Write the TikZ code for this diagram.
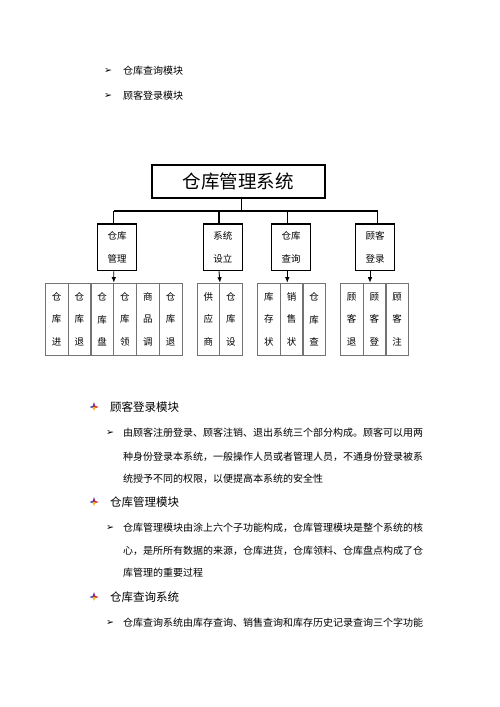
\documentclass[tikz,border=0pt]{standalone}
\usepackage{fontspec}
\newfontfamily\cjk{Noto Sans CJK SC}
\newfontfamily\symf{DejaVu Sans}
\usetikzlibrary{arrows.meta}
\tikzset{
  titlebox/.style={draw=black,line width=1.6pt,minimum width=173pt,minimum height=33pt,inner sep=0pt,font=\cjk\fontsize{18.5}{20}\selectfont},
  midbox/.style={draw=black,line width=1.2pt,minimum width=39pt,minimum height=46.7pt,inner sep=0pt,align=center,font=\cjk\fontsize{9.5}{22.7}\selectfont},
  leafbox/.style={draw=black!55,line width=0.6pt,minimum width=22.7pt,minimum height=72.6pt,inner sep=0pt,align=center,anchor=north west,font=\cjk\fontsize{9.5}{22.5}\selectfont},
  wire/.style={line width=1.1pt,draw=black},
  arr/.style={line width=0.9pt,-{Latex[length=5.5pt,width=4.5pt]}},
  bodytext/.style={anchor=west,inner sep=0pt,font=\cjk\fontsize{10}{12}\selectfont},
  headtext/.style={anchor=west,inner sep=0pt,font=\cjk\fontsize{11.5}{13}\selectfont},
  bul/.style={anchor=center,inner sep=0pt,font=\symf\fontsize{9.5}{10}\selectfont},
}
\newcommand{\headicon}[2]{%
  \fill[fill={rgb,255:red,120;green,40;blue,150}] (#1-1.6,#2) -- (#1,#2-5) -- (#1+1.6,#2) -- cycle;
  \fill[fill={rgb,255:red,60;green,70;blue,200}] (#1,#2-1.6) -- (#1-4.5,#2) -- (#1,#2+1.6) -- cycle;
  \fill[fill={rgb,255:red,220;green,40;blue,40}] (#1,#2-1.6) -- (#1+4.5,#2) -- (#1,#2+1.6) -- cycle;
  \fill[fill={rgb,255:red,245;green,185;blue,30}] (#1-1.6,#2) -- (#1,#2+4) -- (#1+1.6,#2) -- cycle;
}
\begin{document}
\begin{tikzpicture}[x=1pt,y=-1pt]
\useasboundingbox[fill=white] (0,0) rectangle (500,707);

% top bullets
\node[bul] (tb1) at (108,71) {➢};
\node[bodytext] (tt1) at (123,71) {仓库查询模块};
\node[bul] (tb2) at (108,95.5) {➢};
\node[bodytext] (tt2) at (123,95.5) {顾客登录模块};

% title
\node[titlebox] (title) at (238.3,181.3) {仓库管理系统};

% level 2
\node[midbox] (m1) at (117.2,247.3) {仓库\\管理};
\node[midbox] (m2) at (222.8,247.3) {系统\\设立};
\node[midbox] (m3) at (291,247.3) {仓库\\查询};
\node[midbox] (m4) at (375,247.3) {顾客\\登录};

% bus
\coordinate (bt) at (241.5,211);
\coordinate (bl) at (113.5,211);
\coordinate (br) at (377.7,211);
\draw[wire] (title.south -| bt) -- (bt);
\draw[wire] (bl) -- (br);
\coordinate (d1) at (113.5,211);
\coordinate (d2) at (219,211);
\coordinate (d3) at (287.3,211);
\coordinate (d4) at (377.7,211);
\draw[wire] (d1) -- (m1.north -| d1);
\draw[wire] (d2) -- (m2.north -| d2);
\draw[wire] (d3) -- (m3.north -| d3);
\draw[wire] (d4) -- (m4.north -| d4);

% leaves group 1
\foreach \t [count=\i from 0] in {{仓\\库\\进},{仓\\库\\退},{仓\\库\\盘},{仓\\库\\领},{商\\品\\调},{仓\\库\\退}}
  \node[leafbox] (a\i) at (45+22.78*\i,282.7) {\t};
% group 2
\foreach \t [count=\i from 0] in {{供\\应\\商},{仓\\库\\设}}
  \node[leafbox] (b\i) at (196.7+22.5*\i,282.7) {\t};
% group 3
\foreach \t [count=\i from 0] in {{库\\存\\状},{销\\售\\状},{仓\\库\\查}}
  \node[leafbox] (c\i) at (257.3+22.57*\i,282.7) {\t};
% group 4
\foreach \t [count=\i from 0] in {{顾\\客\\退},{顾\\客\\登},{顾\\客\\注}}
  \node[leafbox] (e\i) at (340+22.77*\i,282.7) {\t};

% arrows
\coordinate (p1) at (113.7,0);
\coordinate (p2) at (219,0);
\coordinate (p3) at (287.3,0);
\coordinate (p4) at (370,0);
\draw[arr] (m1.south -| p1) -- (a2.north east);
\draw[arr] (m2.south -| p2) -- (b0.north east);
\draw[arr] (m3.south -| p3) -- (c1.north -| p3);
\draw[arr] (m4.south -| p4) -- (e1.north -| p4);

% section 1
\headicon{94}{407}
\node[headtext] (h1) at (110,407) {顾客登录模块};
\node[bul] (s1b) at (110,433) {➢};
\node[bodytext] (s1l1) at (123,433) {由顾客注册登录、顾客注销、退出系统三个部分构成。顾客可以用两};
\node[bodytext] (s1l2) at (123,456.5) {种身份登录本系统，一般操作人员或者管理人员，不通身份登录被系};
\node[bodytext] (s1l3) at (123,478.5) {统授予不同的权限，以便提高本系统的安全性};

% section 2
\headicon{94}{502}
\node[headtext] (h2) at (110,502) {仓库管理模块};
\node[bul] (s2b) at (110,528) {➢};
\node[bodytext] (s2l1) at (123,528) {仓库管理模块由涂上六个子功能构成，仓库管理模块是整个系统的核};
\node[bodytext] (s2l2) at (123,550.7) {心，是所所有数据的来源，仓库进货，仓库领料、仓库盘点构成了仓};
\node[bodytext] (s2l3) at (123,573) {库管理的重要过程};

% section 3
\headicon{94}{597}
\node[headtext] (h3) at (110,597) {仓库查询系统};
\node[bul] (s3b) at (110,623) {➢};
\node[bodytext] (s3l1) at (123,623) {仓库查询系统由库存查询、销售查询和库存历史记录查询三个字功能};
\end{tikzpicture}
\end{document}
